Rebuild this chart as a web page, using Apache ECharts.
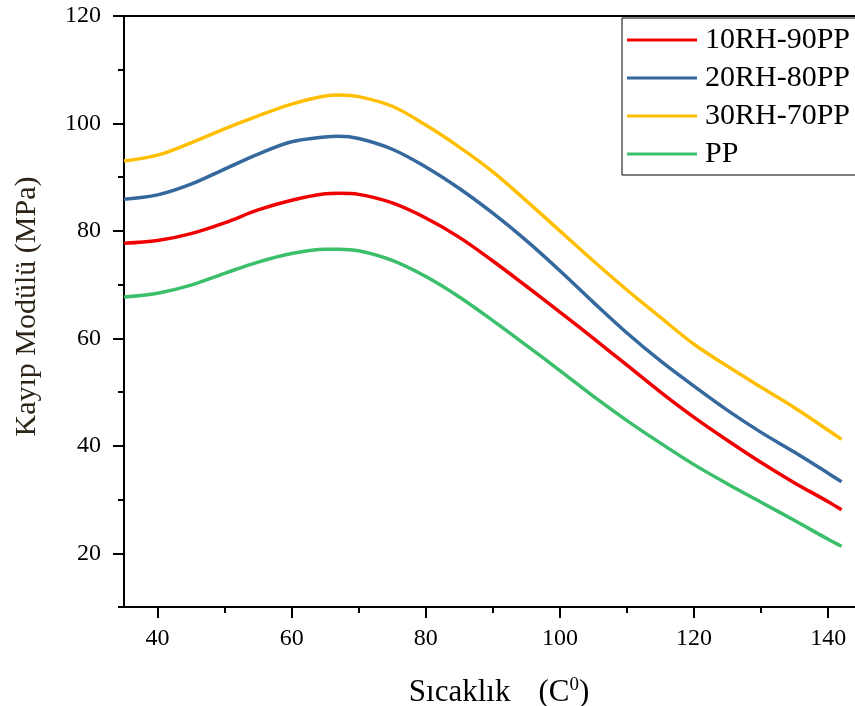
<!DOCTYPE html>
<html>
<head>
<meta charset="utf-8">
<script src="https://cdn.jsdelivr.net/npm/echarts@6/dist/echarts.min.js"></script>
<style>html,body{margin:0;padding:0;background:#fff;}#c{width:855px;height:706px;}</style>
</head>
<body>
<div id="c"></div>
<script>
var temps = [35, 40, 45, 50, 55, 60, 65, 67, 70, 75, 80, 85, 90, 95, 100, 105, 110, 115, 120, 125, 130, 135, 140, 142];
var s10RH = [77.7, 78.2, 79.5, 81.5, 83.9, 85.7, 86.9, 87.0, 86.8, 85.2, 82.4, 78.8, 74.4, 69.7, 64.9, 60.0, 55.0, 50.0, 45.3, 41.0, 36.9, 33.1, 29.6, 28.1];
var s20RH = [85.9, 86.7, 88.7, 91.5, 94.3, 96.6, 97.5, 97.6, 97.2, 95.2, 91.9, 87.9, 83.3, 78.2, 72.6, 66.7, 61.0, 55.8, 51.1, 46.6, 42.5, 38.8, 34.9, 33.3];
var s30RH = [93.0, 94.1, 96.4, 99.0, 101.4, 103.6, 105.1, 105.3, 105.0, 103.2, 99.7, 95.6, 91.0, 85.6, 80.0, 74.4, 69.0, 63.9, 58.9, 54.8, 50.9, 47.1, 42.9, 41.2];
var sPP = [67.7, 68.4, 69.9, 72.1, 74.2, 75.8, 76.6, 76.6, 76.3, 74.5, 71.5, 67.7, 63.3, 58.7, 54.0, 49.2, 44.7, 40.5, 36.5, 32.9, 29.5, 26.1, 22.6, 21.3];
var seriesNames = ['10RH-90PP', '20RH-80PP', '30RH-70PP', 'PP'];
var xMajor = [40, 60, 80, 100, 120, 140];
var xMinor = [50, 70, 90, 110, 130];
var yMajor = [20, 40, 60, 80, 100, 120];
var yMinor = [10, 30, 50, 70, 90, 110];

var FONT = '"Liberation Serif", "Times New Roman", serif';
var colors = ['#f00000', '#35699e', '#ffbf00', '#3bbf6b'];
function pairs(arr) { return temps.map(function (t, i) { return [t, arr[i]]; }); }
var allData = [s10RH, s20RH, s30RH, sPP];

var chart = echarts.init(document.getElementById('c'));
chart.setOption({
  animation: false,
  backgroundColor: '#ffffff',
  grid: { left: 124, right: 0, top: 16, bottom: 99, containLabel: false, outerBoundsMode: 'none' },
  legend: {
    orient: 'vertical',
    left: 622, top: 18,
    data: seriesNames,
    icon: 'rect',
    itemWidth: 70, itemHeight: 3, itemGap: 8,
    padding: [7, 40, 6, 5],
    borderColor: '#000', borderWidth: 1,
    backgroundColor: '#fff',
    textStyle: { fontFamily: FONT, fontSize: 30, color: '#000', lineHeight: 30, padding: [0, 0, 0, 3] }
  },
  xAxis: [
    {
      type: 'value', min: 35, max: 144, position: 'bottom',
      name: '{a|Sıcaklık}{b|(C}{s|0}{b|)}',
      nameLocation: 'middle', nameGap: 69,
      nameTextStyle: {
        fontFamily: FONT, color: '#000',
        rich: {
          a: { fontFamily: FONT, fontSize: 31, color: '#000', padding: [0, 28, 0, 19] },
          b: { fontFamily: FONT, fontSize: 31, color: '#000' },
          s: { fontFamily: FONT, fontSize: 19, color: '#000', verticalAlign: 'top', padding: [0, 0, 14, 0] }
        }
      },
      axisLine: { show: true, lineStyle: { color: '#000', width: 2 } },
      axisTick: { show: true, inside: false, length: 11, customValues: xMajor, lineStyle: { color: '#000', width: 2 } },
      axisLabel: { show: true, customValues: xMajor, fontFamily: FONT, fontSize: 24, color: '#000', margin: 20 },
      splitLine: { show: false }
    },
    {
      type: 'value', min: 35, max: 144, position: 'bottom',
      axisLine: { show: false },
      axisTick: { show: true, inside: false, length: 6, customValues: xMinor, lineStyle: { color: '#000', width: 2 } },
      axisLabel: { show: false },
      splitLine: { show: false }
    },
    {
      type: 'value', min: 35, max: 144, position: 'top',
      axisLine: { show: true, lineStyle: { color: '#000', width: 2 } },
      axisTick: { show: false },
      axisLabel: { show: false },
      splitLine: { show: false }
    }
  ],
  yAxis: [
    {
      type: 'value', min: 10, max: 120, position: 'left',
      name: 'Kayıp Modülü (MPa)',
      nameLocation: 'middle', nameGap: 82, nameRotate: 90,
      nameTextStyle: { fontFamily: FONT, fontSize: 30, color: '#2d2418', padding: [0, 0, 0, 10] },
      axisLine: { show: true, lineStyle: { color: '#000', width: 2 } },
      axisTick: { show: true, inside: false, length: 11, customValues: yMajor, lineStyle: { color: '#000', width: 2 } },
      axisLabel: { show: true, customValues: yMajor, fontFamily: FONT, fontSize: 24, color: '#000', margin: 23 },
      splitLine: { show: false }
    },
    {
      type: 'value', min: 10, max: 120, position: 'left',
      axisLine: { show: false },
      axisTick: { show: true, inside: false, length: 6, customValues: yMinor, lineStyle: { color: '#000', width: 2 } },
      axisLabel: { show: false },
      splitLine: { show: false }
    }
  ],
  series: seriesNames.map(function (n, i) {
    return {
      name: n, type: 'line', xAxisIndex: 0, yAxisIndex: 0,
      data: pairs(allData[i]),
      smooth: 0.35, symbol: 'none', showSymbol: false,
      lineStyle: { color: colors[i], width: 3.5 },
      itemStyle: { color: colors[i] }
    };
  })
});
</script>
</body>
</html>
